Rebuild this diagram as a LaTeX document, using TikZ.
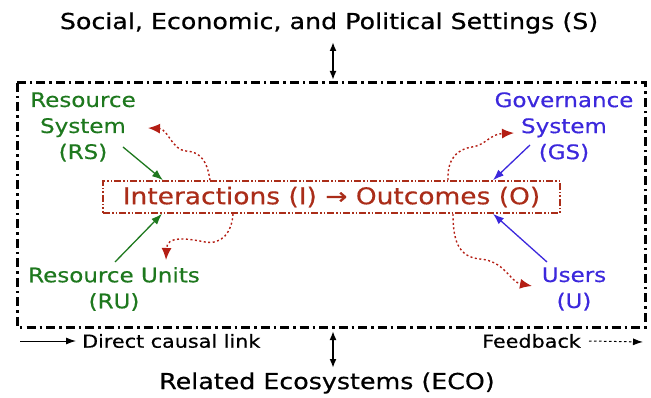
\documentclass[tikz,border=0pt]{standalone}
\usepackage{fontspec}
\setmainfont{DejaVu Sans}[FakeStretch=1.15, FakeBold=0.5]
\usetikzlibrary{arrows.meta}
\definecolor{rsgreen}{RGB}{30,120,30}
\definecolor{gsblue}{RGB}{60,40,220}
\definecolor{iored}{RGB}{170,45,25}
\definecolor{fbred}{RGB}{180,30,20}
\tikzset{
  lbl/.style={inner sep=0pt, align=center, font=\fontsize{20}{26}\selectfont},
  bigtxt/.style={inner sep=0pt, font=\fontsize{22}{26}\selectfont},
  legtxt/.style={inner sep=0pt, font=\fontsize{18}{20}\selectfont},
  outerbox/.style={line width=3pt, dash pattern=on 9pt off 4pt on 2.5pt off 4pt},
  iobox/.style={draw=iored, line width=1.6pt, dash pattern=on 7pt off 2pt on 1.5pt off 2pt on 1.5pt off 2pt, minimum width=457pt, minimum height=32pt, inner sep=0pt, text=iored, font=\fontsize{23}{26}\selectfont},
  causal/.style={line width=1.3pt, -{Latex[length=11pt,width=8pt]}},
  fb/.style={fbred, line width=1.4pt, dash pattern=on 2pt off 2.5pt, -{Latex[length=12pt,width=10pt]}},
  dbl/.style={line width=2pt, {Latex[length=9pt,width=7pt]}-{Latex[length=9pt,width=7pt]}}
}
\begin{document}
\begin{tikzpicture}[x=1pt,y=-1pt]
\useasboundingbox (0,0) rectangle (651,398);
% outer frame
\draw[outerbox] (17,83) rectangle (645,327);
% top and bottom settings
\node[bigtxt] (S) at (329,23) {Social, Economic, and Political Settings (S)};
\node[bigtxt] (ECO) at (327,383) {Related Ecosystems (ECO)};
\coordinate (Sa) at (333,42);
\coordinate (Sb) at (333,80);
\coordinate (Ea) at (333,331);
\coordinate (Eb) at (333,368);
\draw[dbl] (Sa) -- (Sb);
\draw[dbl] (Ea) -- (Eb);
% central box
\node[iobox] (IO) at (331.5,197) {Interactions (I) → Outcomes (O)};
% subsystem labels
\node[lbl, text=rsgreen] (RS) at (83,127) {Resource\\System\\(RS)};
\node[lbl, text=gsblue] (GS) at (564,127) {Governance\\System\\(GS)};
\node[lbl, text=rsgreen] (RU) at (114,289) {Resource Units\\(RU)};
\node[lbl, text=gsblue] (U) at (574,289) {Users\\(U)};
% direct causal links
\coordinate (rs0) at (123,147);
\coordinate (ru0) at (115,262);
\coordinate (gs0) at (530,145);
\coordinate (u0) at (547,262);
\draw[causal, rsgreen] (rs0) -- (IO.north west -| 163,0);
\draw[causal, rsgreen] (ru0) -- (IO.south west -| 162,0);
\draw[causal, gsblue] (gs0) -- (IO.north west -| 493,0);
\draw[causal, gsblue] (u0) -- (IO.south west -| 493,0);
% feedback links
\draw[fb] (IO.north west -| 210,0) .. controls (207,160) and (200,152) .. (186,151) .. controls (172,150) and (168,129) .. (148,128);
\draw[fb] (IO.south west -| 233,0) .. controls (232,232) and (222,245) .. (205,242) .. controls (185,238) and (167,236) .. (166,260);
\draw[fb] (IO.north west -| 448,0) .. controls (447,158) and (458,149) .. (472,147) .. controls (486,145) and (490,134) .. (514,133);
\draw[fb] (IO.south west -| 453,0) .. controls (453,240) and (458,257) .. (480,259) .. controls (505,261) and (510,282) .. (532,286);
% legend
\node[legtxt, anchor=west] (DCL) at (82,341) {Direct causal link};
\node[legtxt, anchor=east] (FB) at (581,341) {Feedback};
\coordinate (L1) at (20,341);
\coordinate (L2) at (643,342);
\draw[line width=1pt, -{Latex[length=10pt,width=7pt]}] (L1) -- ([xshift=-6pt]DCL.west);
\draw[line width=1pt, dash pattern=on 2.5pt off 2.5pt, -{Latex[length=10pt,width=7pt]}] ([xshift=8pt]FB.east) -- (L2);
\end{tikzpicture}
\end{document}
